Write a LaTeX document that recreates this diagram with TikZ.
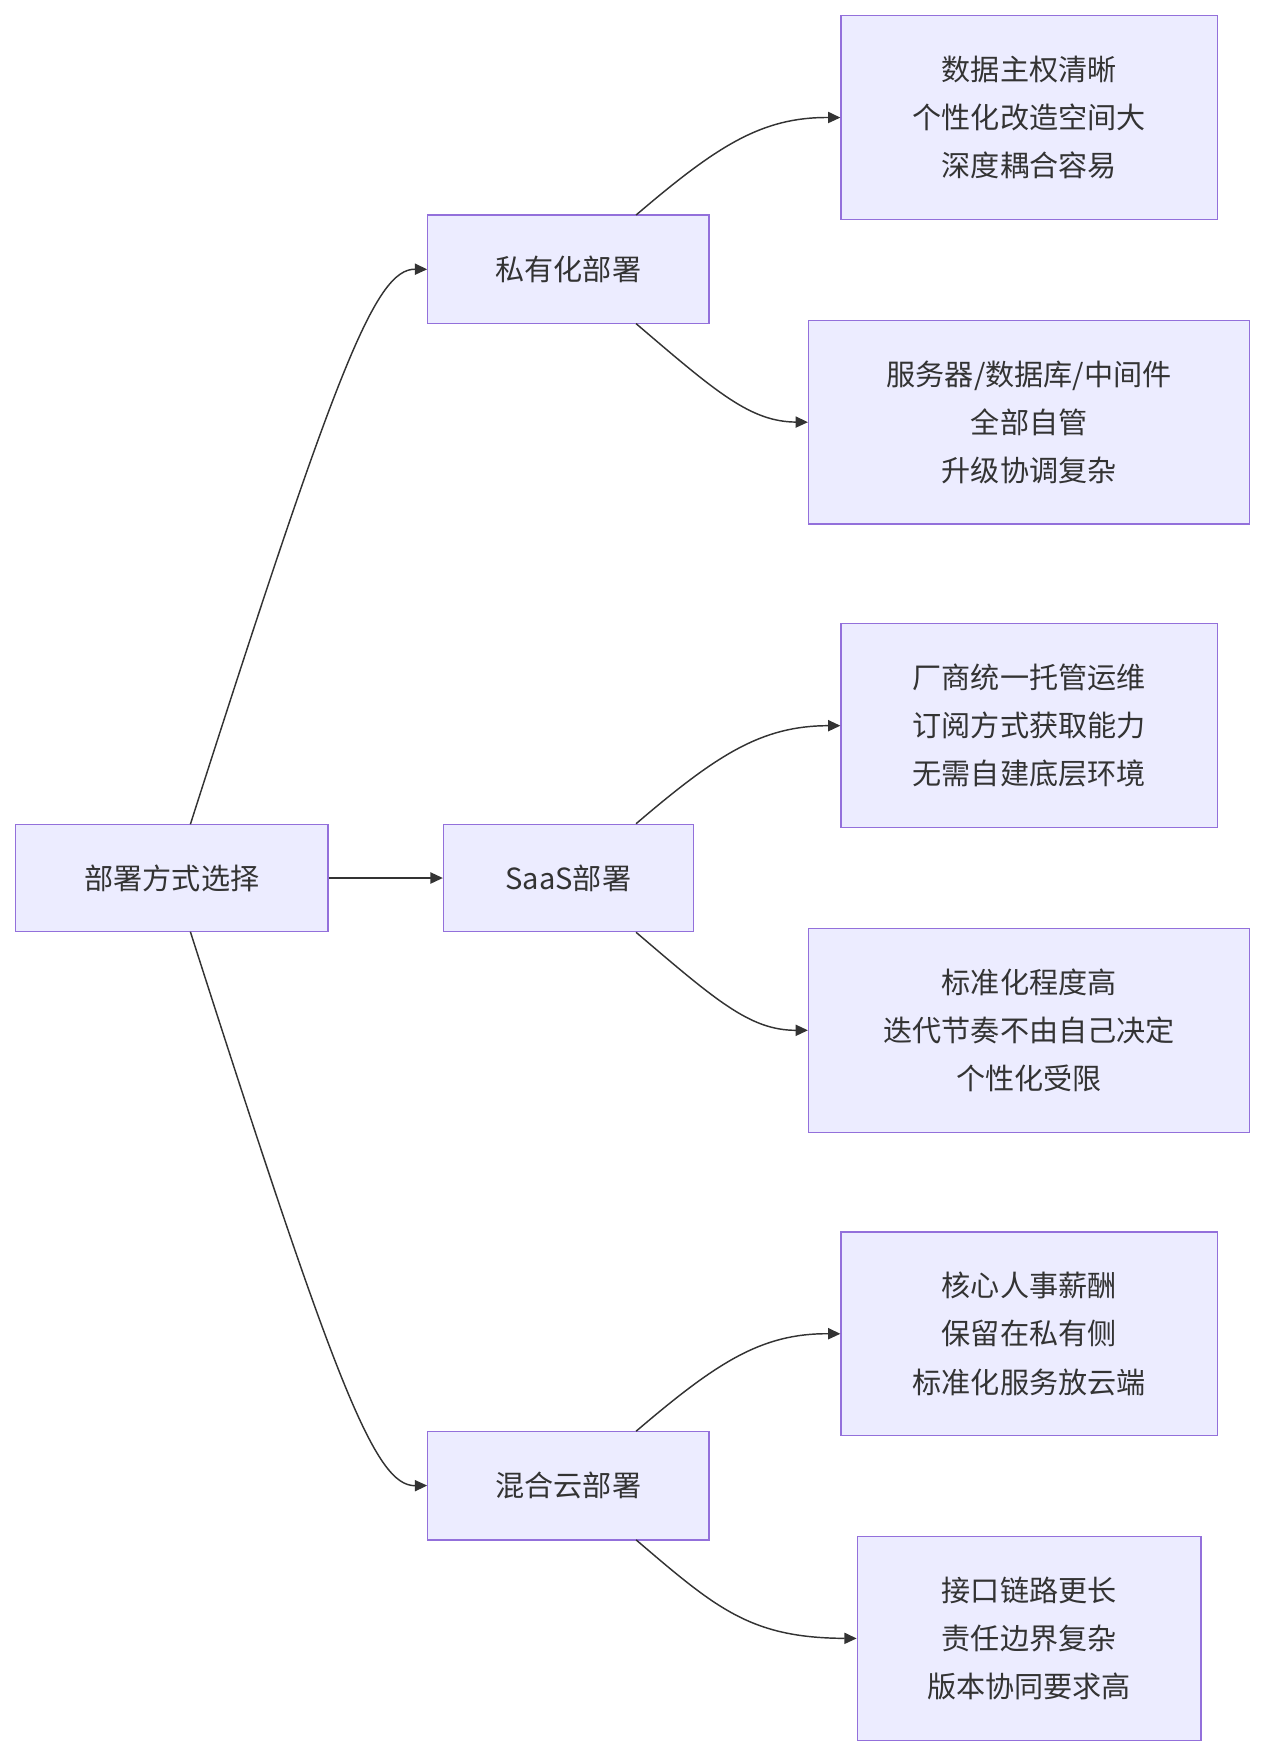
\documentclass[tikz,border=0pt]{standalone}
\usepackage{fontspec}
\setmainfont{Noto Sans CJK SC}
\usetikzlibrary{arrows.meta}
\begin{document}
\begin{tikzpicture}[x=1pt,y=-1pt,
 box/.style={draw=violet!70!blue!60, fill=blue!8, line width=1.2pt, inner sep=0pt, font=\fontsize{26}{43}\selectfont, text=black!80, align=center},
 arr/.style={draw=black!80, line width=1.3pt, -{Triangle[length=11pt,width=10pt]}}]
\useasboundingbox (0,0) rectangle (1130,1568);
\tikzset{box/.append style={draw={rgb,255:red,147;green,112;blue,219}, fill={rgb,255:red,236;green,236;blue,255}}}
\node[box, minimum width=279, minimum height=96] (root) at (153.5,784) {部署方式选择};
\node[box, minimum width=251, minimum height=97] (a) at (507.5,240.5) {私有化部署};
\node[box, minimum width=223, minimum height=96] (b) at (507.5,784) {SaaS部署};
\node[box, minimum width=251, minimum height=97] (c) at (507.5,1326.5) {混合云部署};
\node[box, minimum width=336, minimum height=182] (a1) at (919,105) {数据主权清晰\\个性化改造空间大\\深度耦合容易};
\node[box, minimum width=394, minimum height=182] (a2) at (919,377) {服务器/数据库/中间件\\全部自管\\升级协调复杂};
\node[box, minimum width=336, minimum height=182] (b1) at (919,648) {厂商统一托管运维\\订阅方式获取能力\\无需自建底层环境};
\node[box, minimum width=394, minimum height=182] (b2) at (919,920) {标准化程度高\\迭代节奏不由自己决定\\个性化受限};
\node[box, minimum width=336, minimum height=182] (c1) at (919,1191) {核心人事薪酬\\保留在私有侧\\标准化服务放云端};
\node[box, minimum width=307, minimum height=182] (c2) at (919,1463) {接口链路更长\\责任边界复杂\\版本协同要求高};
\draw[arr] (170,736) .. controls (300,330) and (335,240) .. (a.west);
\draw[arr] (170,832) .. controls (300,1238) and (335,1327) .. (c.west);
\draw[arr] (root.east) -- (b.west);
\foreach \n/\y in {a/240.5,b/784,c/1326.5}{
  \draw[arr] (568,\y-48.5) .. controls (640,\y-110) and (680,\y-136) .. (\n1.west);
  \draw[arr] (568,\y+48.5) .. controls (640,\y+110) and (670,\y+136) .. (\n2.west);
}
\end{tikzpicture}
\end{document}
